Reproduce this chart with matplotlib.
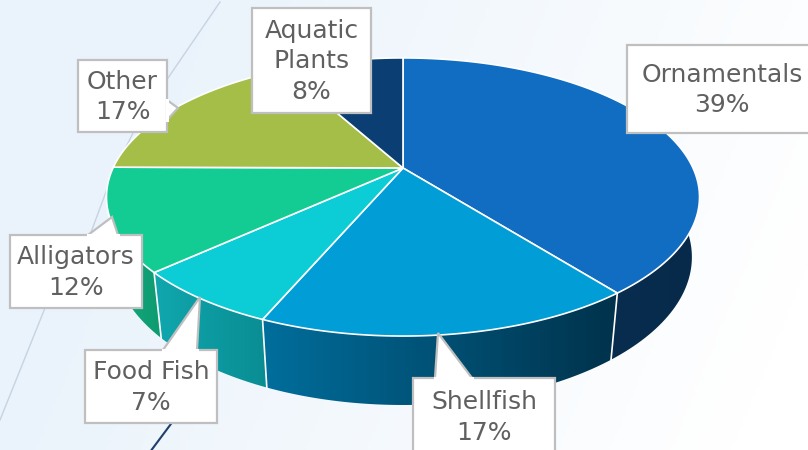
import numpy as np
import matplotlib.pyplot as plt
from matplotlib.patches import Polygon
from matplotlib.colors import to_rgb

# Chart data (shares; labels show them rounded)
labels = ["Ornamentals", "Shellfish", "Food Fish", "Alligators", "Other", "Aquatic\nPlants"]
values = [39.4, 17.0, 6.8, 11.9, 16.9, 8.0]
top_colors = ["#116DC2", "#009DD6", "#0CCDD6", "#12CC94", "#A4BE48", "#0B3F73"]
side_left = ["#0A3459", "#006E9C", "#10A7AE", "#13AE80", "#8AA23A", "#082E55"]
side_right = ["#072A4A", "#00324B", "#098D93", "#0F9A70", "#7A9030", "#072848"]

# label boxes: (x0, y0, x1, y1) in pixels, plus pointer polygon (base1, tip, base2)
boxes = [
    (627, 45, 812, 133, None),
    (413, 378, 555, 455, [(435, 378), (438, 333), (472, 378)]),
    (85, 350, 217, 423, [(163, 350), (200, 297), (197, 350)]),
    (10, 235, 142, 308, [(88, 235), (112, 217), (118, 235)]),
    (78, 60, 167, 132, [(167, 100), (178, 108), (167, 120)]),
    (252, 8, 371, 113, None),
]

# projection parameters of the tilted disc
cx, cy = 403, 168
phi = np.radians(27.3)
L, F, h = 4.262, 1236.0, 0.235


def proj(theta, z):
    X, Y = np.sin(theta), np.cos(theta)
    depth = L + Y * np.cos(phi) - z * np.sin(phi)
    return cx + F * X / depth, cy - F * (Y * np.sin(phi) + z * np.cos(phi)) / depth


fig = plt.figure(figsize=(8.08, 4.5), dpi=100)
ax = fig.add_axes([0, 0, 1, 1])
ax.set_xlim(0, 808)
ax.set_ylim(450, 0)
ax.axis("off")

# background gradient
gx = np.linspace(0, 1, 200)
gy = np.linspace(0, 1, 120)
GX, GY = np.meshgrid(gx, gy)
t = np.clip(GX * 1.1 - 0.25 * (1 - GY), 0, 1)
c0 = np.array(to_rgb("#EAF3FB"))
c1 = np.array([1.0, 1.0, 1.0])
bg = c0[None, None, :] * (1 - t[..., None]) + c1[None, None, :] * t[..., None]
ax.imshow(bg, extent=(0, 808, 450, 0), aspect="auto", zorder=0)

# decorative lines
ax.plot([220, 168, 133, 113, 90, 45, 0], [2, 78, 133, 173, 235, 308, 420],
        color="#C5D3E3", lw=1.0, zorder=1)
ax.plot([150, 200], [452, 385], color="#1F3F6E", lw=1.5, zorder=1)

fracs = np.array(values) / sum(values)
bounds = np.concatenate([[0], np.cumsum(fracs)]) * 2 * np.pi

# side walls, far ones first
order = sorted(range(len(values)), key=lambda i: np.cos((bounds[i] + bounds[i + 1]) / 2), reverse=True)
for i in order:
    th = np.linspace(bounds[i], bounds[i + 1], 120)
    xt, yt = proj(th, 0)
    xb, yb = proj(th, -h)
    pts = np.column_stack([np.concatenate([xt, xb[::-1]]), np.concatenate([yt, yb[::-1]])])
    poly = Polygon(pts, closed=True, facecolor="none", edgecolor="none", zorder=2)
    ax.add_patch(poly)
    x0, x1 = pts[:, 0].min(), pts[:, 0].max()
    y0, y1 = pts[:, 1].min(), pts[:, 1].max()
    ca, cb = np.array(to_rgb(side_left[i])), np.array(to_rgb(side_right[i]))
    s = np.linspace(0, 1, 100)
    grad = ca[None, None, :] * (1 - s[None, :, None]) + cb[None, None, :] * s[None, :, None]
    im = ax.imshow(grad, extent=(x0, x1, y1, y0), aspect="auto", zorder=2)
    im.set_clip_path(poly)

# white lines at visible slice boundaries on the wall
for b in bounds[1:-1]:
    if np.cos(b) < 0.05:
        xt, yt = proj(b, 0)
        xb, yb = proj(b, -h)
        ax.plot([xt, xb], [yt, yb], color="white", lw=1.2, zorder=3)

# top faces
for i in range(len(values)):
    th = np.linspace(bounds[i], bounds[i + 1], 150)
    xt, yt = proj(th, 0)
    pts = np.column_stack([np.concatenate([[cx], xt]), np.concatenate([[cy], yt])])
    ax.add_patch(Polygon(pts, closed=True, facecolor=top_colors[i], edgecolor="white",
                         lw=1.2, joinstyle="round", zorder=4))

# labels
for i, (x0, y0, x1, y1, ptr) in enumerate(boxes):
    ax.add_patch(Polygon([(x0, y0), (x1, y0), (x1, y1), (x0, y1)], closed=True,
                         facecolor="white", edgecolor="#BFBFBF", lw=1.6, zorder=5))
    if ptr is not None:
        ax.add_patch(Polygon(ptr, closed=False, facecolor="white", edgecolor="#BFBFBF",
                             lw=1.6, zorder=6))
        ax.plot([ptr[0][0], ptr[2][0]], [ptr[0][1], ptr[2][1]], color="white", lw=2.2, zorder=6)
    txt = labels[i] + "\n" + f"{round(values[i])}%"
    xc = (x0 + min(x1, 808)) / 2 if i != 0 else 722
    ax.text(xc, (y0 + y1) / 2 + 1, txt, ha="center", va="center", fontsize=18,
            color="#606060", family="DejaVu Sans", linespacing=1.35, zorder=7)

fig.savefig("out.png", dpi=100)
